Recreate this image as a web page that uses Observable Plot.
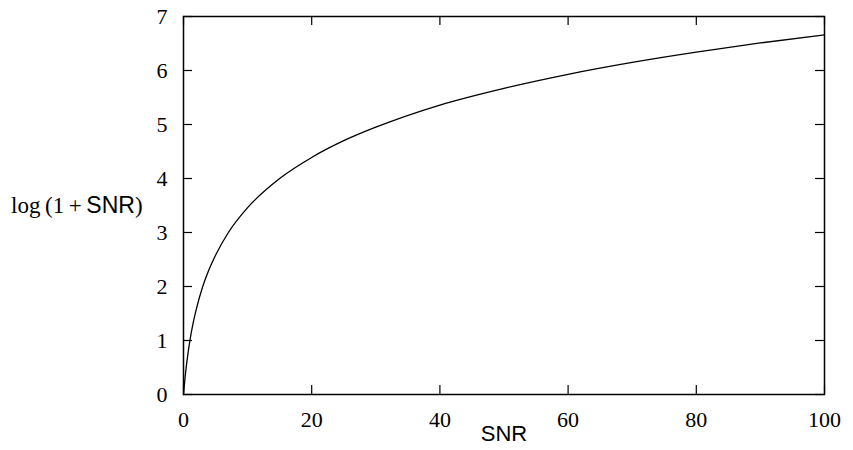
<!DOCTYPE html>
<html>
<head>
<meta charset="utf-8">
<script src="https://cdn.jsdelivr.net/npm/d3@7"></script>
<script src="https://cdn.jsdelivr.net/npm/@observablehq/plot@0.6"></script>
<style>
  body { margin: 0; background: #fff; }
  #wrap { position: relative; width: 853px; height: 450px; }
  #ylab { position: absolute; left: 11px; top: 194px; font-size: 23px; white-space: nowrap; color: #000; line-height: 1; }
  .serif { font-family: "Liberation Serif", "Times New Roman", serif; }
  .sans { font-family: "Liberation Sans", Arial, sans-serif; }
</style>
</head>
<body>
<div id="wrap"></div>
<script>
// SNR values and capacity log(1+SNR)
const snr = [0, 0.25, 0.5, 1, 1.5, 2, 3, 4, 5, 7, 10, 15, 20, 25, 30, 40, 50, 60, 70, 80, 90, 100];
const capacity = [0, 0.32, 0.58, 1.0, 1.32, 1.58, 2.0, 2.32, 2.58, 3.0, 3.46, 4.0, 4.39, 4.70, 4.95, 5.36, 5.67, 5.93, 6.15, 6.34, 6.51, 6.66];
const xTicks = [0, 20, 40, 60, 80, 100];
const yTicks = [0, 1, 2, 3, 4, 5, 6, 7];

const data = snr.map((s, i) => ({snr: s, c: capacity[i]}));

const W = 853, H = 450;
const mL = 183, mR = 29, mT = 16, mB = 56;
const pw = W - mL - mR, ph = H - mT - mB;
const tk = 9;

const chart = Plot.plot({
  width: W, height: H,
  marginLeft: mL, marginRight: mR, marginTop: mT, marginBottom: mB,
  style: {fontFamily: "'Liberation Serif', 'Times New Roman', serif", fontSize: "22px", color: "#000", background: "#fff"},
  x: {domain: [0, 100]},
  y: {domain: [0, 7]},
  marks: [
    Plot.axisX(xTicks, {tickSize: 0, tickPadding: 17, label: null, fontSize: 22, tickFormat: d3.format("d")}),
    Plot.axisY(yTicks, {tickSize: 0, tickPadding: 16, label: null, fontSize: 22, tickFormat: d3.format("d")}),
    Plot.tickY(yTicks, {y: d => d, insetRight: pw - tk, stroke: "#000", strokeWidth: 1.2}),
    Plot.tickY(yTicks, {y: d => d, insetLeft: pw - tk, stroke: "#000", strokeWidth: 1.2}),
    Plot.tickX(xTicks, {x: d => d, insetTop: ph - tk, stroke: "#000", strokeWidth: 1.2}),
    Plot.tickX(xTicks, {x: d => d, insetBottom: ph - tk, stroke: "#000", strokeWidth: 1.2}),
    Plot.line(data, {x: "snr", y: "c", curve: "monotone-x", stroke: "#000", strokeWidth: 1.3}),
    Plot.frame({stroke: "#000", strokeWidth: 1.5}),
    Plot.text(["SNR"], {frameAnchor: "bottom", dy: 46, fontFamily: "'Liberation Sans', Arial, sans-serif", fontSize: 22, fill: "#000"})
  ]
});
const wrap = document.getElementById("wrap");
wrap.appendChild(chart);
const yl = document.createElement("div");
yl.id = "ylab";
yl.innerHTML = '<span class="serif">log&#8201;(1&#8201;+&#8201;</span><span class="sans">SNR</span><span class="serif">)</span>';
wrap.appendChild(yl);
</script>
</body>
</html>
